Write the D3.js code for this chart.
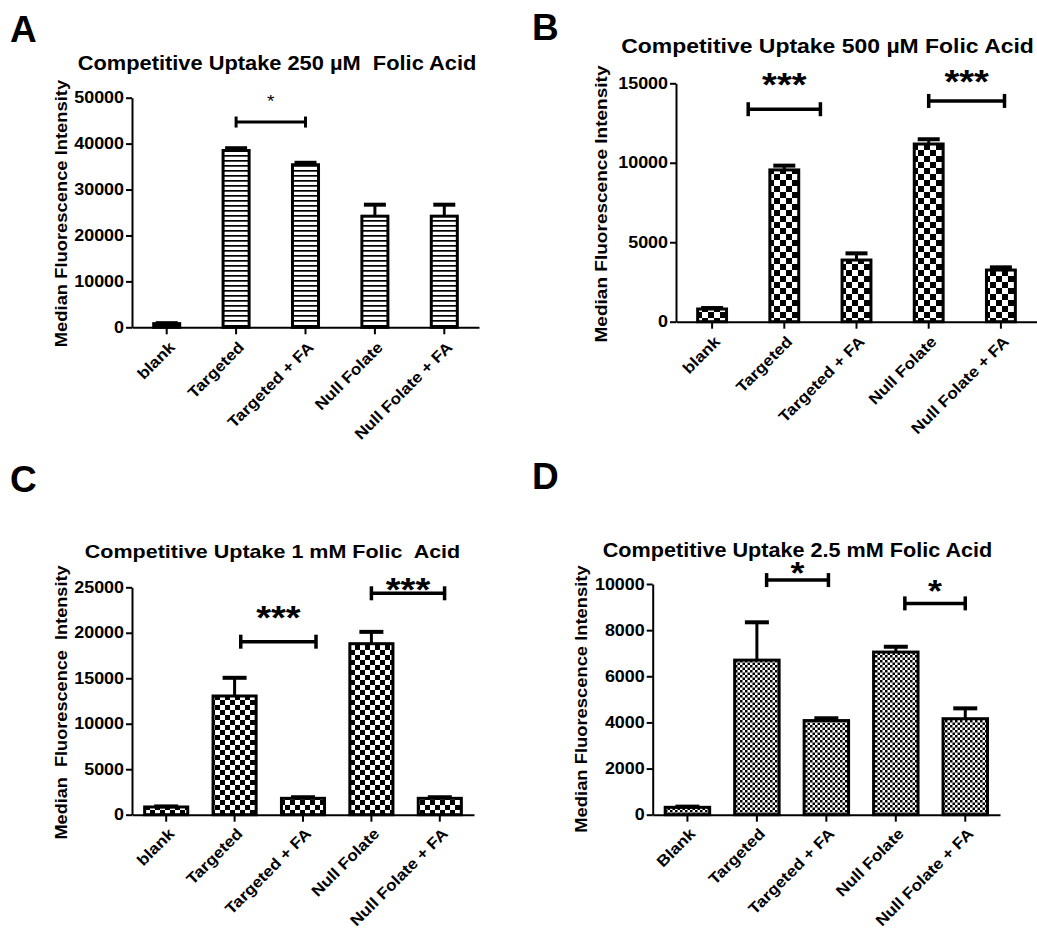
<!DOCTYPE html>
<html>
<head>
<meta charset="utf-8">
<script src="https://cdn.jsdelivr.net/npm/d3@7"></script>
<style>
  body { margin: 0; background: #fff; }
  svg { display: block; }
  text { font-family: "Liberation Sans", Arial, sans-serif; font-weight: bold; fill: #000; }
</style>
</head>
<body>
<svg id="fig" width="1037" height="930"></svg>
<script>
// ---- data ----
var groupsLower = ["blank", "Targeted", "Targeted + FA", "Null Folate", "Null Folate + FA"];
var groupsUpper = ["Blank", "Targeted", "Targeted + FA", "Null Folate", "Null Folate + FA"];

var meanA = [800, 38500, 35400, 24200, 24200];
var semA  = [100, 500, 430, 2500, 2500];
var meanB = [800, 9550, 3880, 11180, 3250];
var semB  = [60, 270, 420, 300, 170];
var meanC = [850, 13050, 1800, 18800, 1800];
var semC  = [60, 2000, 120, 1300, 120];
var meanD = [320, 6700, 4080, 7050, 4160];
var semD  = [30, 1640, 100, 230, 450];

var ticksA = [0, 10000, 20000, 30000, 40000, 50000];
var ticksB = [0, 5000, 10000, 15000];
var ticksC = [0, 5000, 10000, 15000, 20000, 25000];
var ticksD = [0, 2000, 4000, 6000, 8000, 10000];

// significance brackets: group index span, bracket level, star level (data units)
var sigA = [{ from: 1, to: 2, at: 44700, star: 50000, label: "*" }];
var sigB = [{ from: 0.5, to: 1.5, at: 13370, star: 15430, label: "***" },
            { from: 3, to: 4.05, at: 13890, star: 15590, label: "***" }];
var sigC = [{ from: 1.09, to: 2.19, at: 19020, star: 22500, label: "***" },
            { from: 3, to: 4.07, at: 24340, star: 25610, label: "***" }];
var sigD = [{ from: 1.14, to: 2.03, at: 10170, star: 10790, label: "*" },
            { from: 3.13, to: 4, at: 9160, star: 9990, label: "*" }];

var yTitle = "Median Fluorescence Intensity";
var yTitleC = "Median  Fluorescence  Intensity";

var SX = 1.12; // the original fonts are a bit wider than Liberation Sans

var svg = d3.select("#fig");

// fill patterns
var defs = svg.append("defs");
var stripes = defs.append("pattern").attr("id", "stripes")
  .attr("patternUnits", "userSpaceOnUse").attr("width", 10).attr("height", 5);
stripes.append("rect").attr("width", 10).attr("height", 5).attr("fill", "#fff");
stripes.append("rect").attr("width", 10).attr("height", 1.7).attr("fill", "#000");

function checker(id, s) {
  var p = defs.append("pattern").attr("id", id)
    .attr("patternUnits", "userSpaceOnUse").attr("width", 2 * s).attr("height", 2 * s);
  p.append("rect").attr("width", 2 * s).attr("height", 2 * s).attr("fill", "#fff");
  p.append("rect").attr("width", s).attr("height", s).attr("fill", "#000");
  p.append("rect").attr("x", s).attr("y", s).attr("width", s).attr("height", s).attr("fill", "#000");
}
checker("check6", 6);
checker("check5", 5);
checker("check25", 2.5);

function drawPanel(c) {
  var g = svg.append("g");

  // panel letter
  g.append("text").attr("x", c.letter[0]).attr("y", c.letter[1])
    .style("font-size", "37px").text(c.name);

  // title
  g.append("text")
    .attr("transform", "translate(" + c.titlePos[0] + "," + c.titlePos[1] + ") scale(" + SX + ",1)")
    .attr("text-anchor", "middle").style("font-size", c.titleSize + "px")
    .style("white-space", "pre").text(c.title);

  var x = d3.scaleBand().domain(c.cats).range(c.xr)
    .paddingInner(c.pad).paddingOuter(c.pad / 2);
  var y = d3.scaleLinear().domain([0, d3.max(c.ticks)]).range(c.yr);
  var bw = x.bandwidth();
  var xi = d3.scaleLinear().domain([0, c.cats.length - 1])
    .range([x(c.cats[0]) + bw / 2, x(c.cats[c.cats.length - 1]) + bw / 2]);

  var rows = c.cats.map(function(d, i) { return { cat: d, m: c.mean[i], e: c.sem[i] }; });

  // bars
  g.selectAll(".bar").data(rows).enter().append("rect")
    .attr("x", function(d) { return x(d.cat); })
    .attr("y", function(d) { return y(d.m); })
    .attr("width", bw)
    .attr("height", function(d) { return y(0) - y(d.m); })
    .attr("fill", "url(#" + c.pattern + ")")
    .attr("stroke", "#000").attr("stroke-width", 3);

  // error bars (upper only)
  g.selectAll(".err").data(rows).enter().append("line")
    .attr("x1", function(d) { return x(d.cat) + bw / 2; })
    .attr("x2", function(d) { return x(d.cat) + bw / 2; })
    .attr("y1", function(d) { return y(d.m); })
    .attr("y2", function(d) { return y(d.m + d.e); })
    .attr("stroke", "#000").attr("stroke-width", 3);
  g.selectAll(".cap").data(rows).enter().append("line")
    .attr("x1", function(d) { return x(d.cat) + bw / 2 - c.capW / 2; })
    .attr("x2", function(d) { return x(d.cat) + bw / 2 + c.capW / 2; })
    .attr("y1", function(d) { return y(d.m + d.e); })
    .attr("y2", function(d) { return y(d.m + d.e); })
    .attr("stroke", "#000").attr("stroke-width", 4);

  // axes
  var ya = g.append("g").attr("transform", "translate(" + c.xr[0] + ",0)")
    .call(d3.axisLeft(y).tickValues(c.ticks).tickSize(6).tickSizeOuter(0).tickPadding(2)
      .tickFormat(d3.format("d")));
  ya.selectAll("path, line").attr("stroke", "#000").attr("stroke-width", 2);
  ya.selectAll("text").attr("x", -8 / SX).attr("transform", "scale(" + SX + ",1)")
    .style("font-size", "16px").style("font-family", null).attr("fill", "#000");

  var xa = g.append("g").attr("transform", "translate(0," + c.yr[0] + ")")
    .call(d3.axisBottom(x).tickSize(7).tickSizeOuter(0));
  xa.selectAll("path, line").attr("stroke", "#000").attr("stroke-width", 2);
  xa.selectAll("text").attr("x", null).attr("y", null).attr("dy", null)
    .attr("text-anchor", "end")
    .attr("transform", "translate(" + c.xl[0] + "," + c.xl[1] + ") rotate(-45) scale(" + SX + ",1)")
    .style("font-size", "15.5px").style("font-family", null).attr("fill", "#000");

  // y axis title
  g.append("text")
    .attr("transform", "translate(" + c.ylab[0] + "," + c.ylab[1] + ") rotate(-90) scale(" + SX + ",1)")
    .attr("text-anchor", "middle").style("font-size", c.ylabSize + "px")
    .style("white-space", "pre").text(c.ylabel);

  // significance brackets
  c.sig.forEach(function(s) {
    var xa1 = xi(s.from), xa2 = xi(s.to), yy = y(s.at);
    g.append("line").attr("x1", xa1).attr("x2", xa2).attr("y1", yy).attr("y2", yy)
      .attr("stroke", "#000").attr("stroke-width", c.sigW);
    [xa1, xa2].forEach(function(xx) {
      g.append("line").attr("x1", xx).attr("x2", xx)
        .attr("y1", yy - c.capH / 2).attr("y2", yy + c.capH / 2)
        .attr("stroke", "#000").attr("stroke-width", c.sigW);
    });
    g.append("text")
      .attr("transform", "translate(" + (xa1 + xa2) / 2 + "," + (y(s.star) + 0.56 * c.starSize) + ") scale(" + SX + ",1)")
      .attr("text-anchor", "middle")
      .style("font-size", c.starSize + "px")
      .style("font-weight", c.starWeight)
      .text(s.label);
  });
}

drawPanel({
  name: "A", letter: [10, 42], title: "Competitive Uptake 250 \u00b5M  Folic Acid",
  titlePos: [277, 70], titleSize: 19.5,
  cats: groupsLower, mean: meanA, sem: semA, ticks: ticksA, sig: sigA,
  xr: [132, 479], yr: [327.3, 97.7], pad: 0.625, pattern: "stripes", capW: 22,
  xl: [9, 21], ylabel: yTitle, ylab: [66.5, 213.5], ylabSize: 16.4,
  sigW: 3, capH: 11, starSize: 17, starWeight: "normal"
});

drawPanel({
  name: "B", letter: [532, 40], title: "Competitive Uptake 500 \u00b5M Folic Acid",
  titlePos: [827.5, 53], titleSize: 20.5,
  cats: groupsLower, mean: meanB, sem: semB, ticks: ticksB, sig: sigB,
  xr: [676, 1037], yr: [321.7, 83.3], pad: 0.6, pattern: "check6", capW: 22,
  xl: [9, 21], ylabel: yTitle, ylab: [606.6, 204], ylabSize: 17,
  sigW: 3.5, capH: 14, starSize: 34, starWeight: "bold"
});

drawPanel({
  name: "C", letter: [10, 492], title: "Competitive Uptake 1 mM Folic  Acid",
  titlePos: [272.5, 558.3], titleSize: 19.2,
  cats: groupsLower, mean: meanC, sem: semC, ticks: ticksC, sig: sigC,
  xr: [132, 474], yr: [814.7, 587.3], pad: 0.37, pattern: "check5", capW: 24,
  xl: [9, 20], ylabel: yTitleC, ylab: [66.5, 702.5], ylabSize: 16.2,
  sigW: 3.5, capH: 14, starSize: 34, starWeight: "bold"
});

drawPanel({
  name: "D", letter: [532, 489.3], title: "Competitive Uptake 2.5 mM Folic Acid",
  titlePos: [797.5, 556.7], titleSize: 19.3,
  cats: groupsUpper, mean: meanD, sem: semD, ticks: ticksD, sig: sigD,
  xr: [652.7, 1000], yr: [814.7, 584], pad: 0.36, pattern: "check25", capW: 24,
  xl: [9, 20], ylabel: yTitle, ylab: [586.6, 699], ylabSize: 16.4,
  sigW: 3.5, capH: 14, starSize: 32, starWeight: "bold"
});
</script>
</body>
</html>
